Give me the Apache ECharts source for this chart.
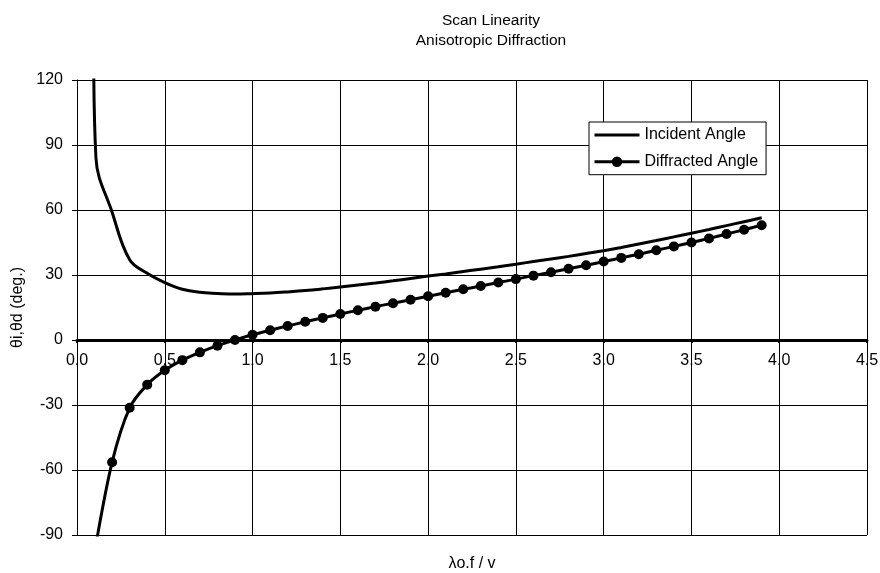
<!DOCTYPE html>
<html><head><meta charset="utf-8">
<script src="https://cdn.jsdelivr.net/npm/echarts@6/dist/echarts.min.js"></script>
<style>html,body{margin:0;padding:0;background:#fff}#c{width:880px;height:573px}</style>
</head><body><div id="c"></div><script>
const titleLines = ['Scan Linearity', 'Anisotropic Diffraction'];
const xAxisName = 'λo.f / v';
const yAxisName = 'θi,θd (deg.)';
const seriesNames = ['Incident Angle', 'Diffracted Angle'];
const xRange = [0, 4.5, 0.5];
const yRange = [-90, 120, 30];

const incidentX = [0.095, 0.108, 0.2, 0.3, 0.4, 0.5, 0.6, 0.7, 0.8, 0.9, 1.0, 1.1, 1.2, 1.3, 1.4, 1.5, 1.6, 1.7, 1.8, 1.9, 2.0, 2.1, 2.2, 2.3, 2.4, 2.5, 2.6, 2.7, 2.8, 2.9, 3.0, 3.1, 3.2, 3.3, 3.4, 3.5, 3.6, 3.7, 3.8, 3.9];
const incidentY = [135, 84, 59, 37, 30.8, 26.5, 23.4, 22.0, 21.5, 21.2, 21.4, 21.7, 22.2, 22.8, 23.6, 24.5, 25.4, 26.3, 27.3, 28.4, 29.5, 30.5, 31.6, 32.7, 33.8, 35.0, 36.2, 37.4, 38.6, 39.9, 41.2, 42.7, 44.3, 45.9, 47.6, 49.3, 51.0, 52.8, 54.6, 56.4];

const diffractedX = [0.1, 0.2, 0.3, 0.4, 0.5, 0.6, 0.7, 0.8, 0.9, 1.0, 1.1, 1.2, 1.3, 1.4, 1.5, 1.6, 1.7, 1.8, 1.9, 2.0, 2.1, 2.2, 2.3, 2.4, 2.5, 2.6, 2.7, 2.8, 2.9, 3.0, 3.1, 3.2, 3.3, 3.4, 3.5, 3.6, 3.7, 3.8, 3.9];
const diffractedY = [-98, -56.4, -31.3, -20.6, -14.0, -9.3, -5.7, -2.6, 0, 2.4, 4.5, 6.5, 8.4, 10.2, 12.0, 13.7, 15.4, 17.0, 18.6, 20.2, 21.8, 23.4, 24.9, 26.5, 28.1, 29.7, 31.3, 32.9, 34.5, 36.2, 37.9, 39.6, 41.4, 43.2, 45.0, 46.9, 48.9, 50.9, 53.0];

const FONT = '"Liberation Sans", Arial, sans-serif';
const pairs = (xs, ys) => xs.map((x, i) => [x, ys[i]]);

const GRID = {left: 77, right: 13, top: 80, bottom: 38};
const H = 573;
const chart = echarts.init(document.getElementById('c'), null, {renderer: 'canvas'});
// vertical pixel position of y = 0 inside the grid, used to lift the x axis onto the zero line
const plotH = H - GRID.top - GRID.bottom;
const zeroFromBottom = plotH * (0 - yRange[0]) / (yRange[1] - yRange[0]);

chart.setOption({
  animation: false,
  backgroundColor: '#fff',
  textStyle: {fontFamily: FONT, color: '#000'},
  title: {
    text: titleLines.join('\n'),
    left: 486, top: 6, textAlign: 'center',
    textStyle: {fontSize: 15.5, fontWeight: 'normal', color: '#000', fontFamily: FONT, lineHeight: 20}
  },
  legend: {
    orient: 'vertical', left: 589, top: 122,
    padding: [4, 8, 4, 4], itemGap: 8.7, itemWidth: 45, itemHeight: 13,
    backgroundColor: '#fff', borderColor: '#000', borderWidth: 1, borderRadius: 0,
    lineStyle: {width: 3, color: '#000'},
    textStyle: {fontSize: 16, lineHeight: 18, color: '#000', fontFamily: FONT},
    data: [{name: seriesNames[0], itemStyle: {opacity: 0}}, {name: seriesNames[1]}]
  },
  grid: Object.assign({containLabel: false, outerBoundsMode: 'none'}, GRID),
  xAxis: {
    type: 'value', min: xRange[0], max: xRange[1], interval: xRange[2],
    offset: -zeroFromBottom,
    name: xAxisName, nameLocation: 'middle', nameGap: 216,
    nameTextStyle: {fontSize: 16, color: '#000', fontFamily: FONT},
    axisLine: {onZero: false, lineStyle: {color: '#000', width: 3}},
    axisTick: {show: true, length: 3, lineStyle: {color: '#000', width: 2}},
    axisLabel: {fontSize: 16, color: '#000', margin: 13, fontFamily: FONT, showMinLabel: true, showMaxLabel: true,
      formatter: v => v.toFixed(1)},
    splitLine: {show: true, lineStyle: {color: '#000', width: 1}}
  },
  yAxis: {
    type: 'value', min: yRange[0], max: yRange[1], interval: yRange[2],
    name: yAxisName, nameLocation: 'middle', nameGap: 47,
    nameTextStyle: {fontSize: 16, color: '#000', fontFamily: FONT},
    axisLine: {show: true, onZero: false, lineStyle: {color: '#000', width: 1}},
    axisTick: {show: true, length: 5, lineStyle: {color: '#000', width: 1}},
    axisLabel: {fontSize: 16, color: '#000', margin: 14, fontFamily: FONT},
    splitLine: {show: true, lineStyle: {color: '#000', width: 1}}
  },
  series: [
    {
      name: seriesNames[0], type: 'line', data: pairs(incidentX, incidentY),
      symbol: 'none', smooth: 0.4, clip: true, z: 3,
      lineStyle: {color: '#000', width: 3}, itemStyle: {color: '#000'}
    },
    {
      name: seriesNames[1], type: 'line', data: pairs(diffractedX, diffractedY),
      symbol: 'circle', symbolSize: 10, showAllSymbol: true, smooth: 0.3, clip: true, z: 3,
      lineStyle: {color: '#000', width: 3}, itemStyle: {color: '#000'}
    }
  ]
});
</script></body></html>
